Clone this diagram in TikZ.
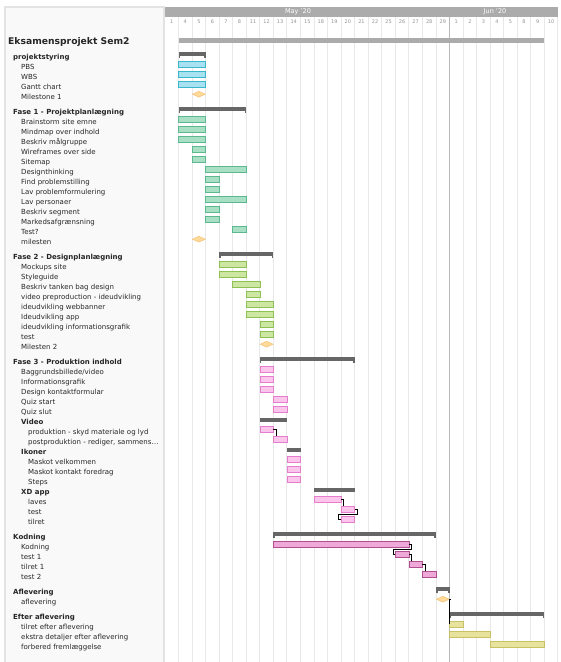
\documentclass[tikz,border=0pt]{standalone}
\usepackage{fontspec}
\setmainfont{DejaVu Sans}
\usetikzlibrary{shapes.geometric}

\definecolor{hdrgray}{HTML}{ABABAB}
\definecolor{sumgray}{HTML}{666666}
\definecolor{psfill}{HTML}{A8E2F2}
\definecolor{psline}{HTML}{3BB6CB}
\definecolor{fAfill}{HTML}{A9DFC5}
\definecolor{fAline}{HTML}{5CB88E}
\definecolor{fBfill}{HTML}{CDE7A3}
\definecolor{fBline}{HTML}{8EC155}
\definecolor{fCfill}{HTML}{FCC5EC}
\definecolor{fCline}{HTML}{E57ECD}
\definecolor{kodfill}{HTML}{EFA9D8}
\definecolor{kodline}{HTML}{B24F92}
\definecolor{efterfill}{HTML}{E8E39C}
\definecolor{efterline}{HTML}{C8C166}
\definecolor{msfill}{HTML}{FFDA98}
\definecolor{msline}{HTML}{F5C57C}

% x position of the left edge of a day column
\newcommand{\colx}[1]{165+13.55*(#1)}
% name, style, text row, first column, last column
\newcommand{\taskbar}[5]{%
  \node[#2, minimum width={13.55*(#5-#4+1)}, anchor=west] (#1) at ({\colx{#4}},{#3-2.5}) {};}
\newcommand{\summary}[4]{%
  \node[sumbar, minimum width={13.55*(#4-#3+1)}, anchor=west] (#1) at ({\colx{#3}},{#2-3}) {};
  \fill[sumgray] (#1.south west) rectangle ++(1.6,2.5);
  \fill[sumgray] (#1.south east) rectangle ++(-1.6,2.5);}
\newcommand{\subbar}[4]{%
  \node[sumbar, minimum width={13.55*(#4-#3+1)}, anchor=west] (#1) at ({\colx{#3}},{#2-1.7}) {};}
\newcommand{\milestone}[3]{%
  \node[mstone] (#1) at ({\colx{#3+0.5}},{#2-2.5}) {};}

\tikzset{
  tasklabel/.style={anchor=west, inner sep=0pt, text height=5.1pt, text depth=0pt,
    font=\fontsize{7}{8}\selectfont, text=black!85},
  grouplabel/.style={tasklabel, font=\bfseries\fontsize{7}{8}\selectfont},
  titlelabel/.style={tasklabel, text height=6.7pt, font=\bfseries\fontsize{9.2}{10}\selectfont},
  dayno/.style={inner sep=0pt, font=\fontsize{5}{6}\selectfont, text=gray!85},
  month/.style={inner sep=0pt, font=\fontsize{6.5}{7}\selectfont, text=white},
  gridline/.style={gray!18, line width=1pt},
  taskbox/.style={draw, line width=0.6pt, minimum height=6pt, inner sep=0pt, outer sep=0pt},
  overall/.style={fill=hdrgray, minimum height=5pt, inner sep=0pt, outer sep=0pt},
  sumbar/.style={fill=sumgray, minimum height=4pt, inner sep=0pt, outer sep=0pt},
  ps/.style={taskbox, fill=psfill, draw=psline},
  fA/.style={taskbox, fill=fAfill, draw=fAline},
  fB/.style={taskbox, fill=fBfill, draw=fBline},
  fC/.style={taskbox, fill=fCfill, draw=fCline},
  kod/.style={taskbox, fill=kodfill, draw=kodline},
  efter/.style={taskbox, fill=efterfill, draw=efterline},
  mstone/.style={diamond, fill=msfill, draw=msline, line width=0.6pt,
    minimum width=13pt, minimum height=6pt, inner sep=0pt},
  dep/.style={black, line width=0.6pt},
}

\begin{document}
\begin{tikzpicture}[x=1pt, y=-1pt]
  \useasboundingbox (0,0) rectangle (561,662);
  % left panel
  \filldraw[fill=gray!5, draw=gray!22, line width=1.5pt] (5,7) rectangle (164,664);

  % grid and header
  \foreach \k in {1,...,29}
    \draw[gridline] ({\colx{\k}},17) -- ({\colx{\k}},662);
  \draw[gray!55, line width=1.2pt] ({\colx{21}},17) -- ({\colx{21}},662);
  \fill[hdrgray] ({\colx{0}},7) rectangle ({\colx{29}},17);
  \node[month] (may) at (298,12) {May '20};
  \node[month] (jun) at (495,12) {Jun '20};
  \foreach \d [count=\i from 0] in {1,4,5,6,7,8,11,12,13,14,15,18,19,20,21,22,25,26,27,28,29,1,2,3,4,5,8,9,10}
    \node[dayno] (day-\i) at ({\colx{\i+0.5}},21.5) {\d};

  % project
  \node[titlelabel] (title) at (8,41) {Eksamensprojekt Sem2};
  \taskbar{all}{overall}{43}{1}{27}

  % projektstyring
  \node[grouplabel] (g-ps) at (13,56.7) {projektstyring};
  \foreach \t [count=\i] in {PBS, WBS, Gantt chart, Milestone 1}
    \node[tasklabel] (ps-\i) at (21,{56.7+10*\i}) {\t};
  \summary{s-ps}{56.7}{1}{2}
  \taskbar{b-pbs}{ps}{66.7}{1}{2}
  \taskbar{b-wbs}{ps}{76.7}{1}{2}
  \taskbar{b-gantt}{ps}{86.7}{1}{2}
  \milestone{m-one}{96.7}{2}

  % Fase 1
  \node[grouplabel] (g-f1) at (13,111.7) {Fase 1 - Projektplanlægning};
  \foreach \t [count=\i] in {Brainstorm site emne, Mindmap over indhold, Beskriv målgruppe,
      Wireframes over side, Sitemap, Designthinking, Find problemstilling,
      Lav problemformulering, Lav personaer, Beskriv segment, Markedsafgrænsning,
      Test?, milesten}
    \node[tasklabel] (f1-\i) at (21,{111.7+10*\i}) {\t};
  \summary{s-f1}{111.7}{1}{5}
  \taskbar{b-brain}{fA}{121.7}{1}{2}
  \taskbar{b-mind}{fA}{131.7}{1}{2}
  \taskbar{b-maal}{fA}{141.7}{1}{2}
  \taskbar{b-wire}{fA}{151.7}{2}{2}
  \taskbar{b-site}{fA}{161.7}{2}{2}
  \taskbar{b-design}{fA}{171.7}{3}{5}
  \taskbar{b-find}{fA}{181.7}{3}{3}
  \taskbar{b-form}{fA}{191.7}{3}{3}
  \taskbar{b-pers}{fA}{201.7}{3}{5}
  \taskbar{b-seg}{fA}{211.7}{3}{3}
  \taskbar{b-mark}{fA}{221.7}{3}{3}
  \taskbar{b-testA}{fA}{231.7}{5}{5}
  \milestone{m-f1}{241.7}{2}

  % Fase 2
  \node[grouplabel] (g-f2) at (13,256.7) {Fase 2 - Designplanlægning};
  \foreach \t [count=\i] in {Mockups site, Styleguide, Beskriv tanken bag design,
      video preproduction - ideudvikling, ideudvikling webbanner, Ideudvikling app,
      ideudvikling informationsgrafik, test, Milesten 2}
    \node[tasklabel] (f2-\i) at (21,{256.7+10*\i}) {\t};
  \summary{s-f2}{256.7}{4}{7}
  \taskbar{b-mock}{fB}{266.7}{4}{5}
  \taskbar{b-style}{fB}{276.7}{4}{5}
  \taskbar{b-tank}{fB}{286.7}{5}{6}
  \taskbar{b-pre}{fB}{296.7}{6}{6}
  \taskbar{b-web}{fB}{306.7}{6}{7}
  \taskbar{b-app}{fB}{316.7}{6}{7}
  \taskbar{b-info}{fB}{326.7}{7}{7}
  \taskbar{b-testB}{fB}{336.7}{7}{7}
  \milestone{m-f2}{346.7}{7}

  % Fase 3
  \node[grouplabel] (g-f3) at (13,361.7) {Fase 3 - Produktion indhold};
  \foreach \t [count=\i] in {Baggrundsbillede/video, Informationsgrafik,
      Design kontaktformular, Quiz start, Quiz slut}
    \node[tasklabel] (f3-\i) at (21,{361.7+10*\i}) {\t};
  \node[grouplabel] (g-video) at (21,421.7) {Video};
  \node[tasklabel] (f3-6) at (28,431.7) {produktion - skyd materiale og lyd};
  \node[tasklabel] (f3-7) at (28,441.7) {postproduktion - rediger, sammens…};
  \node[grouplabel] (g-ikon) at (21,451.7) {Ikoner};
  \node[tasklabel] (f3-8) at (28,461.7) {Maskot velkommen};
  \node[tasklabel] (f3-9) at (28,471.7) {Maskot kontakt foredrag};
  \node[tasklabel] (f3-10) at (28,481.7) {Steps};
  \node[grouplabel] (g-xd) at (21,491.7) {XD app};
  \node[tasklabel] (f3-11) at (28,501.7) {laves};
  \node[tasklabel] (f3-12) at (28,511.7) {test};
  \node[tasklabel] (f3-13) at (28,521.7) {tilret};
  \summary{s-f3}{361.7}{7}{13}
  \taskbar{b-bag}{fC}{371.7}{7}{7}
  \taskbar{b-graf}{fC}{381.7}{7}{7}
  \taskbar{b-kontakt}{fC}{391.7}{7}{7}
  \taskbar{b-qstart}{fC}{401.7}{8}{8}
  \taskbar{b-qslut}{fC}{411.7}{8}{8}
  \subbar{s-video}{421.7}{7}{8}
  \taskbar{b-prod}{fC}{431.7}{7}{7}
  \taskbar{b-post}{fC}{441.7}{8}{8}
  \subbar{s-ikon}{451.7}{9}{9}
  \taskbar{b-velk}{fC}{461.7}{9}{9}
  \taskbar{b-fore}{fC}{471.7}{9}{9}
  \taskbar{b-steps}{fC}{481.7}{9}{9}
  \subbar{s-xd}{491.7}{11}{13}
  \taskbar{b-laves}{fC}{501.7}{11}{12}
  \taskbar{b-xdtest}{fC}{511.7}{13}{13}
  \taskbar{b-xdtilret}{fC}{521.7}{13}{13}

  % Kodning
  \node[grouplabel] (g-kod) at (13,536.7) {Kodning};
  \foreach \t [count=\i] in {Kodning, test 1, tilret 1, test 2}
    \node[tasklabel] (kod-\i) at (21,{536.7+10*\i}) {\t};
  \summary{s-kod}{536.7}{8}{19}
  \taskbar{b-kod}{kod}{546.7}{8}{17}
  \taskbar{b-testone}{kod}{556.7}{17}{17}
  \taskbar{b-tilone}{kod}{566.7}{18}{18}
  \taskbar{b-testtwo}{kod}{576.7}{19}{19}

  % Aflevering
  \node[grouplabel] (g-afl) at (13,591.7) {Aflevering};
  \node[tasklabel] (afl-1) at (21,601.7) {aflevering};
  \summary{s-afl}{591.7}{20}{20}
  \milestone{m-afl}{601.7}{20}

  % Efter aflevering
  \node[grouplabel] (g-eft) at (13,616.7) {Efter aflevering};
  \foreach \t [count=\i] in {tilret efter aflevering, ekstra detaljer efter aflevering,
      forbered fremlæggelse}
    \node[tasklabel] (eft-\i) at (21,{616.7+10*\i}) {\t};
  \summary{s-eft}{616.7}{21}{27}
  \taskbar{b-eftone}{efter}{626.7}{21}{21}
  \taskbar{b-ekstra}{efter}{636.7}{21}{23}
  \taskbar{b-frem}{efter}{646.7}{24}{27}

  % dependencies
  \draw[dep] (b-prod.east) -| ([xshift=2.5pt]b-post.north west);
  \draw[dep] (b-laves.east) -| ([xshift=2.5pt]b-xdtest.north west);
  \draw[dep] (b-xdtest.east) -- ++(2.5,0) -- ++(0,5) -| ([xshift=-2.5pt]b-xdtilret.west) -- (b-xdtilret.west);
  \draw[dep] (b-kod.east) -- ++(2.5,0) -- ++(0,5) -| ([xshift=-2.5pt]b-testone.west) -- (b-testone.west);
  \draw[dep] (b-testone.east) -| ([xshift=2.5pt]b-tilone.north west);
  \draw[dep] (b-tilone.east) -| ([xshift=2.5pt]b-testtwo.north west);
  \draw[dep] (m-afl.east) -| (b-eftone.west);
\end{tikzpicture}
\end{document}
